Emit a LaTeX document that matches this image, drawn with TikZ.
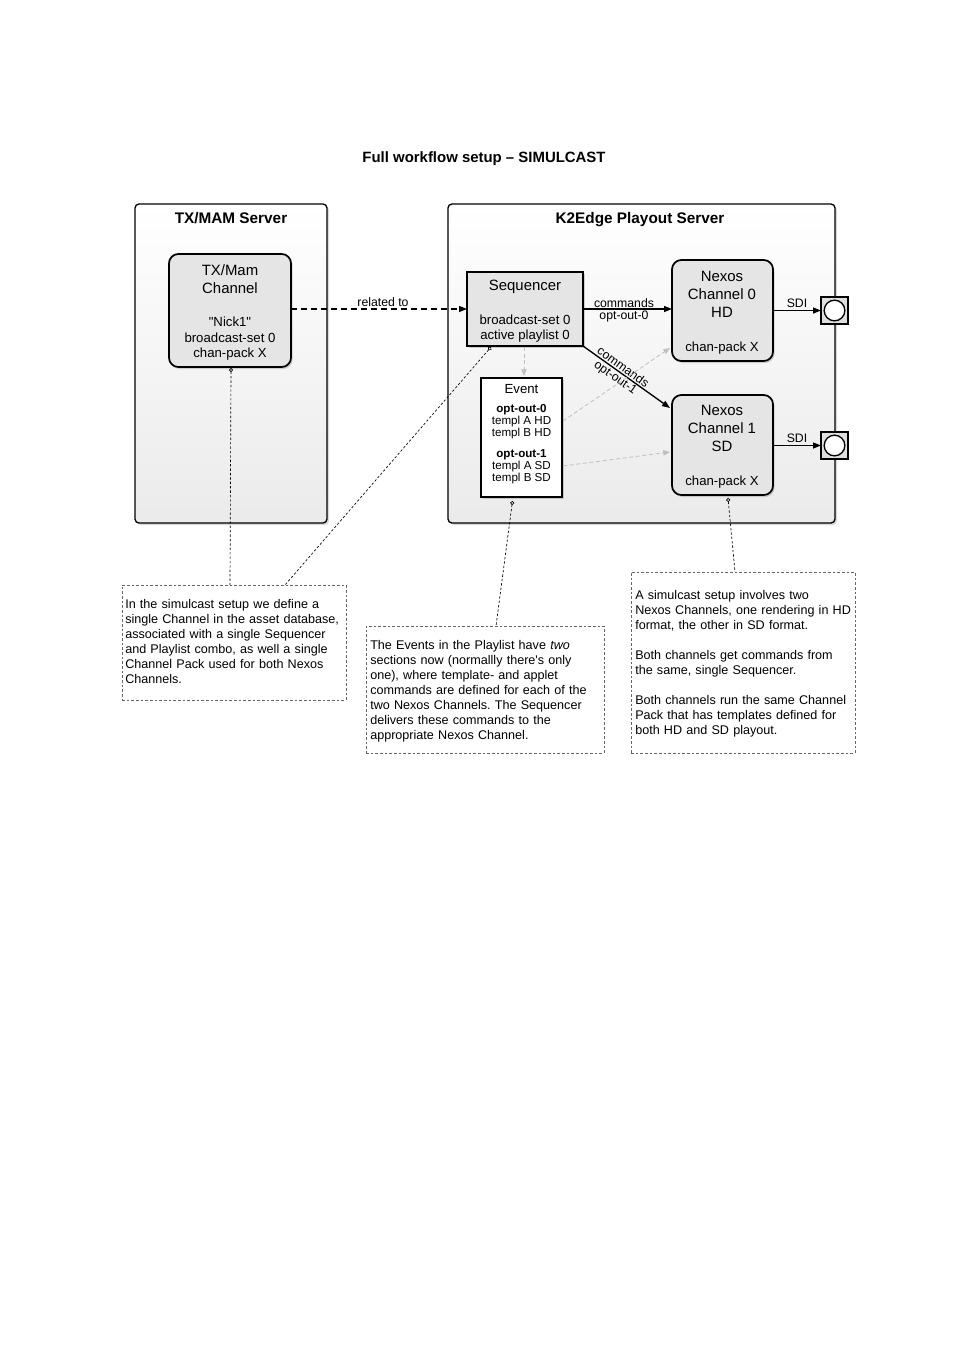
\documentclass[tikz,border=0pt]{standalone}
\usepackage{fontspec}
\setmainfont{Liberation Sans}[Ligatures=TeXOff]
\usetikzlibrary{arrows.meta,shadows,calc}
\frenchspacing
\begin{document}
\begin{tikzpicture}[x=0.75pt,y=-0.75pt,
  server/.style={draw, line width=1pt, rounded corners=3pt, top color=white, bottom color=black!8,
    drop shadow={shadow xshift=1.5pt, shadow yshift=-1.5pt, opacity=0.3},
    anchor=north west, inner sep=0pt, outer sep=0pt},
  unit/.style={draw, line width=1.3pt, rounded corners=7pt, fill=black!10,
    drop shadow={shadow xshift=1.2pt, shadow yshift=-1.5pt, opacity=0.35},
    anchor=north west, inner sep=0pt, outer sep=0pt},
  sqbox/.style={unit, rounded corners=0pt},
  evbox/.style={sqbox, fill=white},
  portbox/.style={draw, line width=1.4pt, fill=black!13, anchor=north west, inner sep=0pt, outer sep=0pt,
    minimum width=20.25pt, minimum height=20.25pt,
    drop shadow={shadow xshift=1pt, shadow yshift=-1pt, opacity=0.3}},
  portcirc/.style={circle, draw, line width=1pt, fill=white, minimum size=15.5pt, inner sep=0pt},
  notebox/.style={draw=black!60, line width=0.5pt, dash pattern=on 2pt off 1.5pt, anchor=north west,
    inner sep=0pt, outer sep=0pt},
  notetxt/.style={font=\fontsize{9.45}{11.3}\selectfont, text width=175pt, align=left, anchor=base west, inner sep=0pt},
  srvtitle/.style={font=\bfseries\fontsize{11.5}{13}\selectfont, anchor=base, inner sep=0pt},
  bigtxt/.style={font=\fontsize{11.2}{13.5}\selectfont, anchor=base, inner sep=0pt},
  midtxt/.style={font=\fontsize{9.9}{11.5}\selectfont, anchor=base, inner sep=0pt},
  evtxt/.style={font=\fontsize{8.7}{10}\selectfont, anchor=base, inner sep=0pt},
  lbl/.style={font=\fontsize{9.2}{10}\selectfont, inner sep=0.8pt},
  lblb/.style={font=\fontsize{9.2}{10}\selectfont, anchor=base, inner sep=0pt},
  solidarrow/.style={line width=1pt, arrows={-Triangle[length=6pt,width=4.5pt]}},
  dasharrow/.style={line width=1pt, dash pattern=on 4.5pt off 3pt, arrows={-Triangle[length=6pt,width=4.5pt]}},
  grayarrow/.style={draw=black!25, line width=0.6pt, dash pattern=on 3pt off 2pt,
    arrows={-Triangle[length=5pt,width=4pt]}},
  notelink/.style={line width=0.5pt, dash pattern=on 1.8pt off 1.5pt, arrows={Circle[open,length=3pt,width=3pt]-}}
]
\useasboundingbox (0,0) rectangle (954,1349);

% title
\node[font=\bfseries\fontsize{11.2}{13}\selectfont, anchor=base, inner sep=0pt] (title) at (484,162) {Full workflow setup – SIMULCAST};

% servers
\node[server, minimum width=144pt, minimum height=239.25pt] (txsrv) at (135,204) {};
\node[server, minimum width=290.25pt, minimum height=239.25pt] (k2srv) at (448,204) {};
\node[srvtitle] (txsrvt) at (231,223) {TX/MAM Server};
\node[srvtitle] (k2srvt) at (640,223) {K2Edge Playout Server};

% TX/Mam channel
\node[unit, minimum width=91.5pt, minimum height=84.75pt] (ch) at (169,254) {};
\node[bigtxt] (ch1) at (230,275) {TX/Mam};
\node[bigtxt] (ch2) at (230,293) {Channel};
\node[midtxt] (ch3) at (230,326) {"Nick1"};
\node[midtxt] (ch4) at (230,342) {broadcast-set 0};
\node[midtxt] (ch5) at (230,357) {chan-pack X};

% Sequencer
\node[sqbox, minimum width=87pt, minimum height=55.5pt] (seq) at (467,272) {};
\node[bigtxt] (seq1) at (525,290) {Sequencer};
\node[midtxt] (seq2) at (525,324) {broadcast-set 0};
\node[midtxt] (seq3) at (525,339) {active playlist 0};

% Nexos 0
\node[unit, minimum width=75.75pt, minimum height=75.75pt] (nx0) at (672,260) {};
\node[bigtxt] (nx0a) at (722,281) {Nexos};
\node[bigtxt] (nx0b) at (722,299) {Channel 0};
\node[bigtxt] (nx0c) at (722,317) {HD};
\node[midtxt] (nx0d) at (722,351) {chan-pack X};

% Nexos 1
\node[unit, minimum width=75.75pt, minimum height=75pt] (nx1) at (672,395) {};
\node[bigtxt] (nx1a) at (722,415) {Nexos};
\node[bigtxt] (nx1b) at (722,433) {Channel 1};
\node[bigtxt] (nx1c) at (722,451) {SD};
\node[midtxt] (nx1d) at (722,485) {chan-pack X};

% Event
\node[evbox, minimum width=60.75pt, minimum height=89.25pt] (ev) at (481,378) {};
\node[midtxt] (ev1) at (521.5,393) {Event};
\node[evtxt, font=\bfseries\fontsize{8.7}{10}\selectfont] (ev2) at (521.5,412) {opt-out-0};
\node[evtxt] (ev3) at (521.5,424.5) {templ A HD};
\node[evtxt] (ev4) at (521.5,436.5) {templ B HD};
\node[evtxt, font=\bfseries\fontsize{8.7}{10}\selectfont] (ev5) at (521.5,457) {opt-out-1};
\node[evtxt] (ev6) at (521.5,469) {templ A SD};
\node[evtxt] (ev7) at (521.5,481) {templ B SD};

% ports
\node[portbox] (port0) at (821,297) {};
\node[portcirc] (port0c) at (port0.center) {};
\node[portbox] (port1) at (821,432) {};
\node[portcirc] (port1c) at (port1.center) {};

% connectors
\draw[dasharrow] (ch.east |- seq.west) -- (seq.west);
\node[lblb] (rel) at (383,306) {related to};

\draw[solidarrow] (seq.east) -- (seq.east -| nx0.west);
\node[lblb] (cmd0) at (624,307) {commands};
\node[lblb] (oo0) at (624,319.5) {opt-out-0};

\draw[solidarrow] (seq.south east) -- ($(nx1.north west)+(-2,13)$)
  node[lbl, sloped, above=0.3pt, pos=0.42] (cmd1) {commands}
  node[lbl, sloped, below=0.3pt, pos=0.42] (oo1) {opt-out-1};

\draw[solidarrow] (nx0.east) -- (port0.west);
\node[lblb] (sdi0) at (797,307) {SDI};
\draw[solidarrow] (nx1.east |- port1.west) -- (port1.west);
\node[lblb] (sdi1) at (797,442) {SDI};

\draw[grayarrow] ($(seq.south)+(-1,1)$) -- ($(ev.north)+(2.5,-2)$);
\draw[grayarrow] ($(ev.north east)+(1,43)$) -- ($(nx0.south west)+(-2,-13)$);
\draw[grayarrow] ($(ev.north east)+(1,88)$) -- ($(nx1.north west)+(-2,57)$);

% notes
\node[notebox, minimum width=168pt, minimum height=86.25pt] (note1) at (122,585) {};
\node[notetxt] (note1t) at (125,608) {In the simulcast setup we define a\\
single Channel in the asset database,\\
associated with a single Sequencer\\
and Playlist combo, as well a single\\
Channel Pack used for both Nexos\\
Channels.};

\node[notebox, minimum width=178.5pt, minimum height=95.25pt] (note2) at (366,626) {};
\node[notetxt] (note2t) at (370,649) {The Events in the Playlist have \emph{two}\\
sections now (normallly there's only\\
one), where template- and applet\\
commands are defined for each of the\\
two Nexos Channels. The Sequencer\\
delivers these commands to the\\
appropriate Nexos Channel.};

\node[notebox, minimum width=168pt, minimum height=135.75pt] (note3) at (631,572) {};
\node[notetxt] (note3t) at (635,599) {A simulcast setup involves two\\
Nexos Channels, one rendering in HD\\
format, the other in SD format.\\[11.3pt]
Both channels get commands from\\
the same, single Sequencer.\\[11.3pt]
Both channels run the same Channel\\
Pack that has templates defined for\\
both HD and SD playout.};

% note links
\draw[notelink] ($(ch.south)+(1,1)$) -- (ch.south |- note1.north);
\draw[notelink] ($(seq.south)+(-34,1)$) -- ($(note1.north)+(51,0)$);
\draw[notelink] ($(ev.south)+(-9,4)$) -- ($(note2.north)+(11,0)$);
\draw[notelink] ($(nx1.south)+(5.5,3)$) -- ($(note3.north)+(-8,0)$);
\end{tikzpicture}
\end{document}
